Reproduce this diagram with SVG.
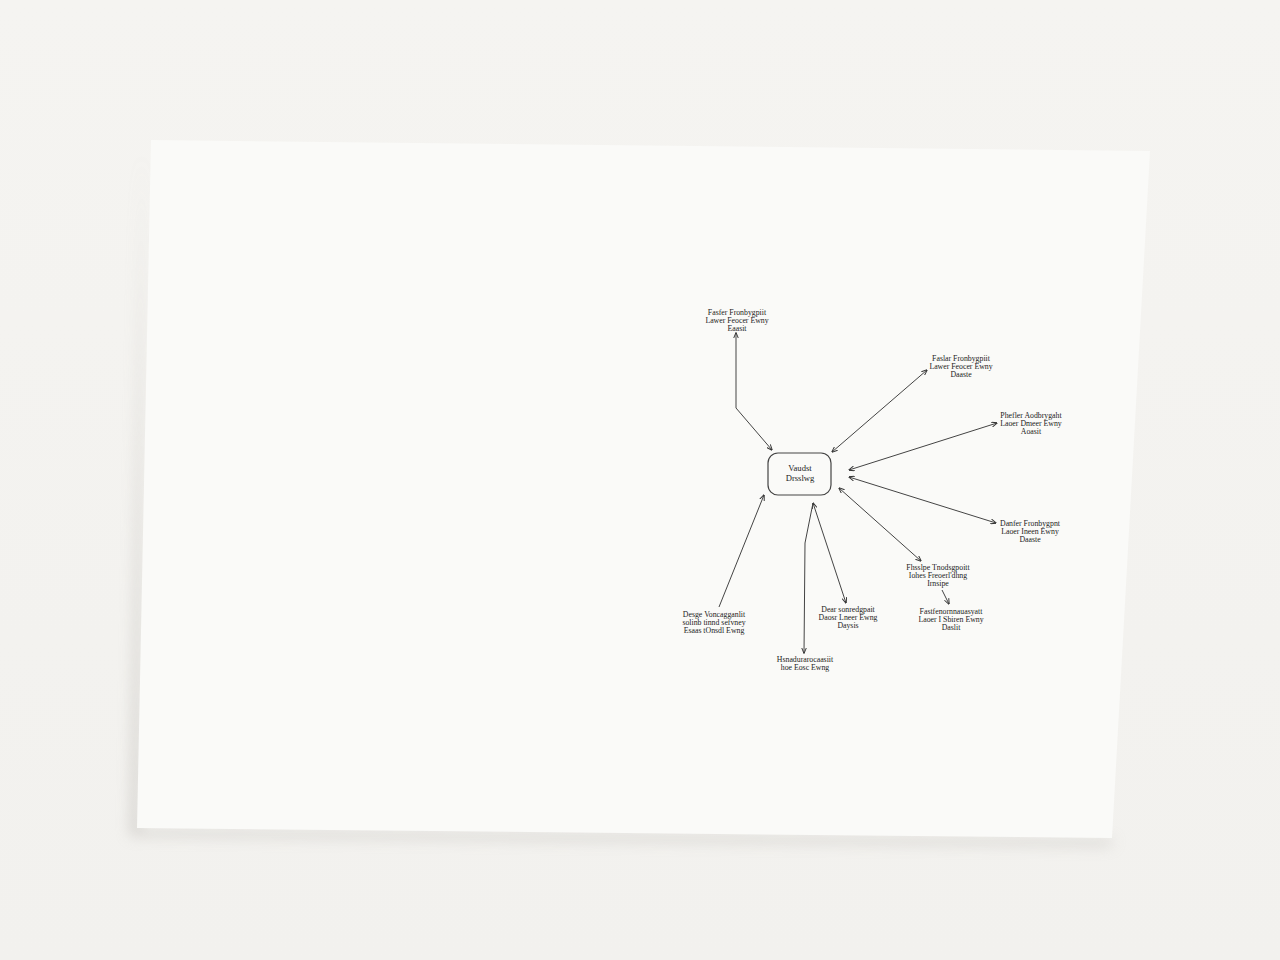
<svg xmlns="http://www.w3.org/2000/svg" width="1280" height="960" viewBox="0 0 1280 960">
<defs>
<marker id="ah" viewBox="0 0 10 10" refX="9" refY="5" markerWidth="6" markerHeight="6" orient="auto-start-reverse"><path d="M0,1 L10,5 L0,9" fill="none" stroke="#333" stroke-width="1.6"/></marker>
<linearGradient id="bg" x1="0" y1="0" x2="0" y2="1"><stop offset="0" stop-color="#f5f4f1"/><stop offset="1" stop-color="#f2f1ee"/></linearGradient>
<filter id="sh" x="-10%" y="-10%" width="120%" height="120%"><feGaussianBlur stdDeviation="7"/></filter>
</defs>
<style>
.c{fill:none;stroke:#444;stroke-width:1}
.t{font-family:"Liberation Serif",serif;font-size:7.8px;fill:#222;text-anchor:middle}
.ct{font-size:8.6px}
.n{fill:none;stroke:#444;stroke-width:1.2}
</style>
<rect width="1280" height="960" fill="url(#bg)"/>
<path d="M142,150 L130,836 L1108,846 L1116,840 L140,830 Z" fill="#bdbab5" opacity="0.55" filter="url(#sh)"/>
<path d="M151,140 L1150,151 L1112,838 L137,828 Z" fill="#fafaf8"/>
<g id="connectors">
<polyline class="c" points="736,333 736,408 772,450" marker-start="url(#ah)" marker-end="url(#ah)"/>
<line class="c" x1="832" y1="452" x2="927" y2="370" marker-start="url(#ah)" marker-end="url(#ah)"/>
<line class="c" x1="849" y1="470" x2="997" y2="423" marker-start="url(#ah)" marker-end="url(#ah)"/>
<line class="c" x1="849" y1="477" x2="996" y2="523" marker-start="url(#ah)" marker-end="url(#ah)"/>
<line class="c" x1="839" y1="488" x2="921" y2="561" marker-start="url(#ah)" marker-end="url(#ah)"/>
<line class="c" x1="942" y1="590" x2="949" y2="604" marker-end="url(#ah)"/>
<line class="c" x1="813" y1="503" x2="846" y2="603" marker-start="url(#ah)" marker-end="url(#ah)"/>
<polyline class="c" points="813,503 805,543 804,653" marker-end="url(#ah)"/>
<line class="c" x1="764" y1="495" x2="719" y2="607" marker-start="url(#ah)"/>
</g>
<g id="center"><rect class="n" x="768" y="453" width="63" height="42" rx="10"/>
<text class="t ct" x="800" y="471">Vaudst</text><text class="t ct" x="800" y="481">Drsslwg</text></g>
<g id="n1"><text class="t" x="737" y="315">Fasfer Fronbygpiit</text><text class="t" x="737" y="323">Lawer Feocer Ewny</text><text class="t" x="737" y="331">Eaasit</text></g>
<g id="n2"><text class="t" x="961" y="361">Faslar Fronbygpiit</text><text class="t" x="961" y="369">Lawer Feocer Ewny</text><text class="t" x="961" y="377">Daaste</text></g>
<g id="n3"><text class="t" x="1031" y="418">Phefler Aodbrygaht</text><text class="t" x="1031" y="426">Laoer Dmeer Ewny</text><text class="t" x="1031" y="434">Aoasit</text></g>
<g id="n4"><text class="t" x="1030" y="526">Danfer Fronbygpnt</text><text class="t" x="1030" y="534">Laoer Ineen Ewny</text><text class="t" x="1030" y="542">Daaste</text></g>
<g id="n5"><text class="t" x="938" y="570">Fhsslpe Tnodsgpoitt</text><text class="t" x="938" y="578">Iohes Freoerl'dhng</text><text class="t" x="938" y="586">Irnsipe</text></g>
<g id="n6"><text class="t" x="951" y="614">Fastfenornnauasyatt</text><text class="t" x="951" y="622">Laoer I Sbiren Ewny</text><text class="t" x="951" y="630">Daslit</text></g>
<g id="n7"><text class="t" x="714" y="617">Desge Voncagganlit</text><text class="t" x="714" y="625">solinb tinnd sefvney</text><text class="t" x="714" y="633">Esaas tOnsdl Ewng</text></g>
<g id="n8"><text class="t" x="848" y="612">Dear sonredgpait</text><text class="t" x="848" y="620">Daosr Lneer Ewng</text><text class="t" x="848" y="628">Daysis</text></g>
<g id="n9"><text class="t" x="805" y="662">Hsnadurarocaasiit</text><text class="t" x="805" y="670">hoe Eosc Ewng</text></g>
</svg>
